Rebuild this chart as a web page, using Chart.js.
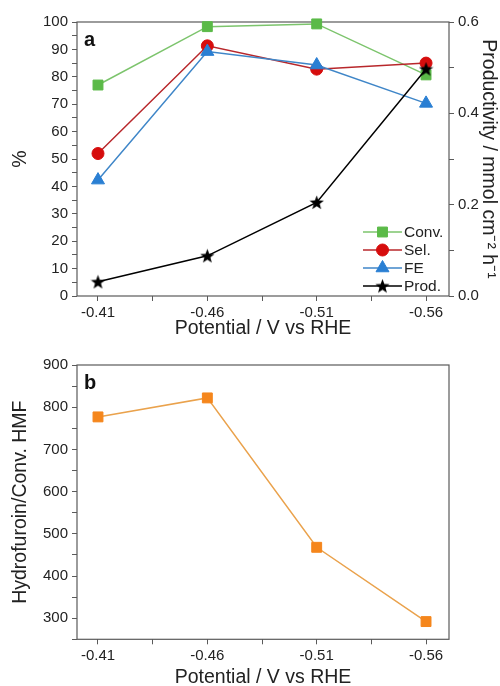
<!DOCTYPE html>
<html>
<head>
<meta charset="utf-8">
<script src="https://cdn.jsdelivr.net/npm/chart.js@4.4.1/dist/chart.umd.min.js"></script>
<style>
body { margin: 0; background: #fff; overflow: hidden; }
#topPanel { position: absolute; left: 0; top: 0; width: 500px; height: 350px; }
#bottomPanel { position: absolute; left: 0; top: 350px; width: 500px; height: 336px; }
</style>
</head>
<body>
<div id="topPanel"><canvas id="efficiencyChart"></canvas></div>
<div id="bottomPanel"><canvas id="ratioChart"></canvas></div>
<script>
// values
const potentials = [-0.41, -0.46, -0.51, -0.56];
const conversion = [77, 98.3, 99.3, 80.7];
const selectivity = [52, 91.3, 82.8, 85];
const faradaicEff = [42.3, 89.2, 84.3, 70.3];
const productivity = [0.031, 0.088, 0.205, 0.497];
const hydrofuroinRatio = [777, 822, 468, 292];

// tick positions (labelled + minor)
const potentialTicks = [-0.41, -0.435, -0.46, -0.485, -0.51, -0.535, -0.56];
const percentTicks = [0, 5, 10, 15, 20, 25, 30, 35, 40, 45, 50, 55, 60, 65, 70, 75, 80, 85, 90, 95, 100];
const percentLabels = [0, 10, 20, 30, 40, 50, 60, 70, 80, 90, 100];
const prodTicks = [0, 0.1, 0.2, 0.3, 0.4, 0.5, 0.6];
const prodLabels = [0, 0.2, 0.4, 0.6];
const ratioTicks = [250, 300, 350, 400, 450, 500, 550, 600, 650, 700, 750, 800, 850, 900];
const ratioLabels = [300, 400, 500, 600, 700, 800, 900];

const FONT = "'Liberation Sans', Arial, sans-serif";
const AXIS_COLOR = '#5a5a5a';
const TEXT_COLOR = '#222';

function isListed(v, list)
{
    return list.some(function (t) { return Math.abs(t - v) < 1e-6; });
}

function toPoints(values)
{
    return potentials.map(function (p, i) { return { x: p, y: values[i] }; });
}

function makeStar(size, color)
{
    const c = document.createElement('canvas');
    c.width = size;
    c.height = size;
    const g = c.getContext('2d');
    const outer = size / 2, inner = outer * 0.42;
    g.beginPath();
    for (let i = 0; i < 10; i++) {
        const r = i % 2 ? inner : outer;
        const a = -Math.PI / 2 + i * Math.PI / 5;
        g.lineTo(size / 2 + r * Math.cos(a), size / 2 + 0.6 + r * Math.sin(a));
    }
    g.closePath();
    g.fillStyle = color;
    g.fill();
    return c;
}

const frame = {
    id: 'frame',
    beforeDatasetsDraw(chart) {
        const a = chart.chartArea, ctx = chart.ctx;
        ctx.save();
        ctx.strokeStyle = AXIS_COLOR;
        ctx.lineWidth = 1.2;
        ctx.strokeRect(a.left, a.top, a.right - a.left, a.bottom - a.top);
        ctx.restore();
    }
};

function panelLetter(letter)
{
    return {
        id: 'panelLetter',
        afterDraw(chart) {
            const a = chart.chartArea, ctx = chart.ctx;
            ctx.save();
            ctx.font = 'bold 20px ' + FONT;
            ctx.fillStyle = '#111';
            ctx.textAlign = 'left';
            ctx.textBaseline = 'middle';
            ctx.fillText(letter, a.left + 7, a.top + 18);
            ctx.restore();
        }
    };
}

const insideLegend = {
    id: 'insideLegend',
    afterDatasetsDraw(chart) {
        const a = chart.chartArea, ctx = chart.ctx;
        const sets = chart.data.datasets;
        for (let i = 0; i < sets.length; i++) {
            const ds = sets[i];
            const y = a.bottom - 64 + i * 18;
            const x0 = a.right - 86, x1 = a.right - 47;
            ctx.save();
            ctx.strokeStyle = ds.borderColor;
            ctx.lineWidth = 1.5;
            ctx.beginPath();
            ctx.moveTo(x0, y);
            ctx.lineTo(x1, y);
            ctx.stroke();
            ctx.fillStyle = ds.pointBackgroundColor;
            ctx.strokeStyle = ds.pointBorderColor;
            ctx.lineWidth = 1;
            Chart.helpers.drawPoint(ctx, {
                pointStyle: ds.pointStyle,
                radius: ds.pointRadius,
                rotation: 0,
                borderWidth: 1
            }, (x0 + x1) / 2, y);
            ctx.font = '15.5px ' + FONT;
            ctx.fillStyle = TEXT_COLOR;
            ctx.textAlign = 'left';
            ctx.textBaseline = 'middle';
            ctx.fillText(ds.label, x1 + 2, y + 1);
            ctx.restore();
        }
    }
};

function potentialAxis(titlePad, titleLineHeight, height)
{
    return {
        type: 'linear',
        reverse: true,
        min: -0.5705,
        max: -0.4004,
        afterBuildTicks: function (scale) {
            scale.ticks = potentialTicks.map(function (v) { return { value: v }; });
        },
        afterFit: function (scale) { scale.height = height; },
        ticks: {
            autoSkip: false,
            maxRotation: 0,
            padding: 3,
            color: TEXT_COLOR,
            font: { family: FONT, size: 15 },
            callback: function (v) { return isListed(v, potentials) ? v.toFixed(2) : ''; }
        },
        grid: { drawOnChartArea: false, drawTicks: true, tickLength: 5, color: AXIS_COLOR, tickColor: AXIS_COLOR },
        border: { display: false },
        title: {
            display: true,
            text: 'Potential / V vs RHE',
            color: TEXT_COLOR,
            padding: { top: 0, bottom: titlePad },
            font: { family: FONT, size: 19.5, lineHeight: titleLineHeight }
        }
    };
}

function valueAxis(position, min, max, tickList, labelList, digits, titleText, titlePad, width)
{
    return {
        type: 'linear',
        position: position,
        min: min,
        max: max,
        afterBuildTicks: function (scale) {
            scale.ticks = tickList.map(function (v) { return { value: v }; });
        },
        afterFit: function (scale) { scale.width = width; },
        ticks: {
            autoSkip: false,
            padding: 4,
            color: TEXT_COLOR,
            font: { family: FONT, size: 15 },
            callback: function (v) { return isListed(v, labelList) ? v.toFixed(digits) : ''; }
        },
        grid: { drawOnChartArea: false, drawTicks: true, tickLength: 5, color: AXIS_COLOR, tickColor: AXIS_COLOR },
        border: { display: false },
        title: {
            display: true,
            text: titleText,
            color: TEXT_COLOR,
            padding: { top: titlePad, bottom: 0 },
            font: { family: FONT, size: 19.5 }
        }
    };
}

function lineSet(label, values, lineColor, markColor, style, radius, axisId, order)
{
    return {
        label: label,
        data: toPoints(values),
        borderColor: lineColor,
        backgroundColor: markColor,
        pointBackgroundColor: markColor,
        pointBorderColor: markColor,
        pointStyle: style,
        pointRadius: radius,
        pointHoverRadius: radius,
        pointBorderWidth: 1,
        borderWidth: 1.5,
        yAxisID: axisId,
        order: order,
        clip: false
    };
}

function showEfficiencyChart()
{
    const ctx = document.getElementById('efficiencyChart').getContext('2d');
    const star = makeStar(15, '#000');

    new Chart(ctx, {
        type: 'line',
        data: {
            datasets: [
                lineSet('Conv.', conversion, '#7cc46c', '#5bba48', 'rect', 7, 'percent', 4),
                lineSet('Sel.', selectivity, '#b8272b', '#d60d0d', 'circle', 6, 'percent', 3),
                lineSet('FE', faradaicEff, '#3f86c8', '#2a7fd3', 'triangle', 7.5, 'percent', 2),
                lineSet('Prod.', productivity, '#000', '#000', star, 7, 'prod', 1)
            ]
        },
        options: {
            responsive: true,
            maintainAspectRatio: false,
            animation: false,
            layout: { padding: { top: 22, left: 0, right: 0, bottom: 0 } },
            plugins: { legend: { display: false }, tooltip: { enabled: false } },
            scales: {
                x: potentialAxis(10, 1.2, 54),
                percent: valueAxis('left', 0, 100, percentTicks, percentLabels, 0, '%', 9, 77),
                prod: valueAxis('right', 0, 0.6, prodTicks, prodLabels, 1, 'Productivity / mmol cm\u207B\u00B2 h\u207B\u00B9', 0, 51)
            }
        },
        plugins: [frame, insideLegend, panelLetter('a')]
    });
}

function showRatioChart()
{
    const ctx = document.getElementById('ratioChart').getContext('2d');

    new Chart(ctx, {
        type: 'line',
        data: {
            datasets: [
                lineSet('Hydrofuroin/Conv. HMF', hydrofuroinRatio, '#eaa24c', '#f5861c', 'rect', 7, 'ratio', 1)
            ]
        },
        options: {
            responsive: true,
            maintainAspectRatio: false,
            animation: false,
            layout: { padding: { top: 15, left: 0, right: 51, bottom: 0 } },
            plugins: { legend: { display: false }, tooltip: { enabled: false } },
            scales: {
                x: potentialAxis(0, 0.85, 46.7),
                ratio: valueAxis('left', 250, 900, ratioTicks, ratioLabels, 0, 'Hydrofuroin/Conv. HMF', 9, 77)
            }
        },
        plugins: [frame, panelLetter('b')]
    });
}

showEfficiencyChart();
showRatioChart();
</script>
</body>
</html>
